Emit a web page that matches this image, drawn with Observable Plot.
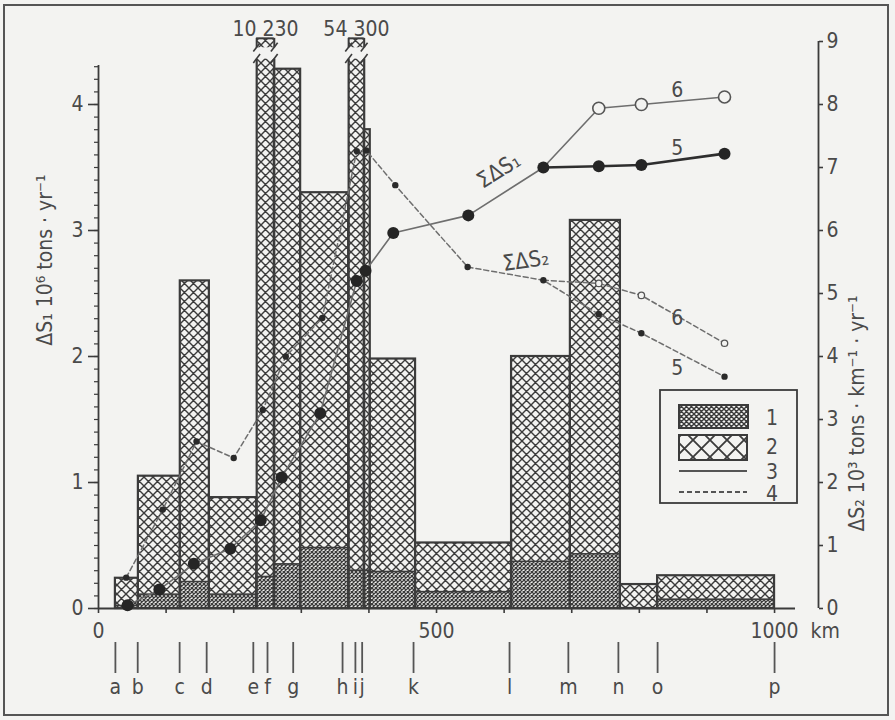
<!DOCTYPE html>
<html>
<head>
<meta charset="utf-8">
<script src="https://cdn.jsdelivr.net/npm/d3@7"></script>
<script src="https://cdn.jsdelivr.net/npm/@observablehq/plot@0.6"></script>
<style>
  html, body { margin: 0; padding: 0; background: #f3f3f1; }
  #wrap { position: relative; width: 895px; height: 720px; overflow: hidden; }
  #frame { position: absolute; left: 3px; top: 4px; width: 886px; height: 712px;
           border: 2px solid #555; box-sizing: border-box; pointer-events: none; }
  #legend { position: absolute; left: 659px; top: 389px; }
  svg text { font-family: "DejaVu Sans Condensed", "DejaVu Sans", sans-serif; }
</style>
</head>
<body>
<div id="wrap"><div id="frame"></div></div>
<script>
// Stations along the profile (km from the origin)
const stationNames = ["a","b","c","d","e","f","g","h","i","j","k","l","m","n","o","p"];
const stationKm    = [25, 58, 120, 160, 229, 250, 288, 361, 380, 390, 466, 608, 695, 769, 827, 1000];

// River sections: start / end (km) and load per km, 10^3 t·km⁻¹·yr⁻¹
const barStart  = [25, 59, 121, 164, 234, 260, 299, 370, 393, 402, 469, 611, 698, 772, 827];
const barEnd    = [59, 121, 164, 234, 260, 299, 370, 393, 402, 469, 611, 698, 772, 827, 1000];
const loadFine  = [0.04, 0.22, 0.42, 0.22, 0.50, 0.70, 0.96, 0.60, 0.60, 0.58, 0.26, 0.74, 0.86, 0.00, 0.14];
const loadTotal = [0.48, 2.10, 5.20, 1.76, 10.23, 8.56, 6.60, 54.30, 7.60, 3.96, 1.04, 4.00, 6.16, 0.38, 0.52];

// Cumulative ΣΔS1 (10^6 t·yr⁻¹): common part, then variants 5 and 6
const sumS1Km     = [43, 90, 141, 195, 240, 271, 328, 382, 395, 436, 547, 658];
const sumS1Common = [0.025, 0.15, 0.355, 0.475, 0.70, 1.04, 1.55, 2.60, 2.68, 2.98, 3.12, 3.50];
const tailKm      = [740, 803, 926];
const sumS1Case5  = [3.51, 3.52, 3.61];
const sumS1Case6  = [3.97, 4.00, 4.06];

// Cumulative ΣΔS2 (10^3 t·km⁻¹·yr⁻¹): common part, then variants 5 and 6
const sumS2Km     = [41, 95, 145, 200, 243, 277, 331, 382, 396, 439, 546, 658];
const sumS2Common = [0.49, 1.57, 2.65, 2.39, 3.15, 4.00, 4.61, 7.26, 7.27, 6.72, 5.42, 5.21];
const sumS2Case5  = [4.67, 4.37, 3.68];
const sumS2Case6  = [5.16, 4.97, 4.21];

const ink = "#3b3b3b", grey = "#6e6e6e", paper = "#f3f3f1", textInk = "#4a4a4a";
const FS = 21;

// Tables built from the arrays above
const sections = barStart.map((x1, i) => ({x1, x2: barEnd[i], fine: loadFine[i], total: loadTotal[i]}));
const breakLow = 8.72, breakHigh = 8.9, stubTop = 9.05;
const whole  = sections.filter(d => d.total <= breakLow);
const broken = sections.filter(d => d.total > breakLow);
const brokenEdges = broken.flatMap(d => [d.x1, d.x2]);
const breakMarks = brokenEdges.flatMap(x => [breakLow - 0.06, breakHigh - 0.06].map(y => ({x1: x - 5, x2: x + 5, y1: y, y2: y + 0.14})));

const pts = (xs, ys) => xs.map((x, i) => ({x, y: ys[i]}));
const s1Common = pts(sumS1Km, sumS1Common);
const s1Tail5 = pts(tailKm, sumS1Case5), s1Tail6 = pts(tailKm, sumS1Case6);
const s2Common = pts(sumS2Km, sumS2Common);
const s2Tail5 = pts(tailKm, sumS2Case5), s2Tail6 = pts(tailKm, sumS2Case6);
const lastS1 = s1Common[s1Common.length - 1], lastS2 = s2Common[s2Common.length - 1];

// ΔS1 uses the left axis (0–4.5), drawn on the ΔS2 scale (0–9): factor 2
const y1 = d => d.y * 2;
const spaced = v => String(Math.round(v * 1000)).replace(/(\d)(?=(\d{3})+$)/g, "$1 ");

const chart = Plot.plot({
  width: 895, height: 720,
  marginLeft: 98, marginRight: 77, marginTop: 41, marginBottom: 112,
  x: {domain: [0, 1065], axis: null},
  y: {domain: [0, 9], axis: null},
  style: {background: "transparent", color: textInk, fontSize: FS + "px",
          fontFamily: '"DejaVu Sans Condensed", "DejaVu Sans", sans-serif'},
  marks: [
    // section bars: component 2 (coarse hatch) over component 1 (fine hatch)
    Plot.rect(sections, {x1: "x1", x2: "x2", y1: "fine", y2: d => Math.min(d.total, breakLow), fill: "url(#coarse)"}),
    Plot.rect(broken, {x1: "x1", x2: "x2", y1: breakHigh, y2: stubTop, fill: "url(#coarse)"}),
    Plot.rect(sections.filter(d => d.fine > 0), {x1: "x1", x2: "x2", y1: 0, y2: "fine", fill: "url(#fine)", stroke: ink, strokeWidth: 1.6}),
    Plot.rect(whole, {x1: "x1", x2: "x2", y1: 0, y2: "total", fill: "none", stroke: ink, strokeWidth: 2.2}),
    Plot.ruleX(brokenEdges, {y1: 0, y2: breakLow, stroke: ink, strokeWidth: 2.2}),
    Plot.ruleX(brokenEdges, {y1: breakHigh, y2: stubTop, stroke: ink, strokeWidth: 2}),
    Plot.ruleY(broken, {y: stubTop, x1: "x1", x2: "x2", stroke: ink, strokeWidth: 2}),
    Plot.link(breakMarks, {x1: "x1", y1: "y1", x2: "x2", y2: "y2", stroke: ink, strokeWidth: 1.6}),
    Plot.text(broken, {x: d => (d.x1 + d.x2) / 2, y: stubTop, text: d => spaced(d.total), lineAnchor: "bottom", dy: -2, fontSize: FS, fill: textInk}),

    // axes
    Plot.ruleX([0], {y1: 0, y2: 8.62, stroke: ink, strokeWidth: 1.8}),
    Plot.axisY({anchor: "left", ticks: [0, 2, 4, 6, 8], tickFormat: d => String(d / 2), tickSize: 10, tickPadding: 5, label: null, stroke: ink, strokeWidth: 1.6, fontSize: FS}),
    Plot.axisY({anchor: "left", ticks: d3.range(0, 8.61, 0.2), tickFormat: () => "", tickSize: 4, label: null, stroke: ink, strokeWidth: 1.2}),
    Plot.ruleX([1065], {y1: 0, y2: 9, stroke: ink, strokeWidth: 1.8}),
    Plot.axisY({anchor: "right", ticks: d3.range(0, 10), tickFormat: d => String(d), tickSize: 4, tickPadding: 4, label: null, stroke: ink, strokeWidth: 1.6, fontSize: FS}),
    Plot.ruleY([0], {x1: 0, x2: 1031, stroke: ink, strokeWidth: 2.2}),
    Plot.axisX({ticks: d3.range(0, 1001, 100), tickFormat: d => d % 500 === 0 ? String(d) : "", tickSize: 5, tickPadding: 10, label: null, stroke: ink, strokeWidth: 1.6, fontSize: FS}),
    Plot.text([1000], {x: d => d, frameAnchor: "bottom", text: () => "km", textAnchor: "start", lineAnchor: "top", dx: 36, dy: 15, fontSize: FS, fill: textInk}),
    Plot.axisX({ticks: stationKm, tickFormat: d => stationNames[stationKm.indexOf(d)], tickSize: 31, tickPadding: 6, dy: 34, label: null, stroke: "#555", strokeWidth: 1.8, fontSize: FS}),

    // axis titles
    Plot.text(["ΔS₁ 10⁶ tons · yr⁻¹"], {frameAnchor: "left", y: 4.17, dx: -53, rotate: -90, fontSize: FS, fill: textInk}),
    Plot.text(["ΔS₂ 10³ tons · km⁻¹ · yr⁻¹"], {frameAnchor: "right", y: 4.97, dx: 39, rotate: -90, fontSize: FS, fill: textInk}),

    // ΣΔS2 (dashed, right axis)
    Plot.line([lastS2, ...s2Tail6], {x: "x", y: "y", stroke: grey, strokeWidth: 1.5, strokeDasharray: "5,3"}),
    Plot.line([...s2Common, ...s2Tail5], {x: "x", y: "y", stroke: grey, strokeWidth: 1.5, strokeDasharray: "5,3"}),
    Plot.dot([...s2Common, ...s2Tail5], {x: "x", y: "y", r: 3.2, fill: "#2a2a2a"}),
    Plot.dot(s2Tail6, {x: "x", y: "y", r: 3.2, fill: paper, stroke: "#555", strokeWidth: 1.3}),

    // ΣΔS1 (solid, left axis)
    Plot.line([...s1Common, ...s1Tail6], {x: "x", y: y1, stroke: grey, strokeWidth: 1.6}),
    Plot.line([lastS1, ...s1Tail5], {x: "x", y: y1, stroke: "#2e2e2e", strokeWidth: 2.6}),
    Plot.dot([...s1Common, ...s1Tail5], {x: "x", y: y1, r: 6, fill: "#252525"}),
    Plot.dot(s1Tail6, {x: "x", y: y1, r: 6, fill: paper, stroke: "#555", strokeWidth: 1.6}),

    // curve labels
    Plot.text(["ΣΔS₁"], {x: 592, y: 6.95, rotate: -32, fontSize: FS + 1, fill: textInk}),
    Plot.text(["ΣΔS₂"], {x: 632, y: 5.52, rotate: -8, fontSize: FS + 1, fill: textInk}),
    Plot.text(["6", "5"], {x: 856, y: [8.22, 7.3], fontSize: FS, fill: textInk}),
    Plot.text(["6", "5"], {x: 856, y: [4.6, 3.81], fontSize: FS, fill: textInk})
  ]
});

// hatch patterns used by the bars and the legend
const defs = d3.select(chart).insert("defs", ":first-child");
function hatch(id, size, width) {
  const p = defs.append("pattern").attr("id", id).attr("patternUnits", "userSpaceOnUse")
    .attr("width", size).attr("height", size);
  p.append("rect").attr("width", size).attr("height", size).attr("fill", paper);
  const s = size;
  p.append("path")
    .attr("d", `M0,0L${s},${s}M${s},0L0,${s}M${-s/2},${s/2}L0,${s}M${s/2},${-s/2}L${s},0M${s},${s}L${s*1.5},${s/2}M${-s/2},${s/2}L0,0`)
    .attr("stroke", ink).attr("stroke-width", width).attr("fill", "none");
}
hatch("coarse", 9, 1.4);
hatch("fine", 4, 1.25);
hatch("coarseLg", 17, 1.8);
hatch("fineLg", 5, 1.4);

document.getElementById("wrap").prepend(chart);

// legend box
const lg = d3.select("#wrap").append("svg").attr("id", "legend").attr("width", 142).attr("height", 118);
lg.append("rect").attr("x", 1).attr("y", 1).attr("width", 137).attr("height", 113).attr("fill", paper).attr("stroke", ink).attr("stroke-width", 1.8);
lg.append("rect").attr("x", 20).attr("y", 16).attr("width", 69).attr("height", 23).attr("fill", "url(#fineLg)").attr("stroke", ink).attr("stroke-width", 2);
lg.append("rect").attr("x", 20).attr("y", 46).attr("width", 68).attr("height", 25).attr("fill", "url(#coarseLg)").attr("stroke", ink).attr("stroke-width", 2);
lg.append("line").attr("x1", 20).attr("x2", 88).attr("y1", 82).attr("y2", 82).attr("stroke", "#555").attr("stroke-width", 1.8);
lg.append("line").attr("x1", 20).attr("x2", 88).attr("y1", 103).attr("y2", 103).attr("stroke", "#555").attr("stroke-width", 1.8).attr("stroke-dasharray", "5,3");
["1", "2", "3", "4"].forEach((t, i) => {
  lg.append("text").attr("x", 113).attr("y", [29, 58, 83, 105][i]).attr("dy", "0.35em")
    .attr("text-anchor", "middle").attr("font-size", FS).attr("fill", textInk).text(t);
});
</script>
</body>
</html>
